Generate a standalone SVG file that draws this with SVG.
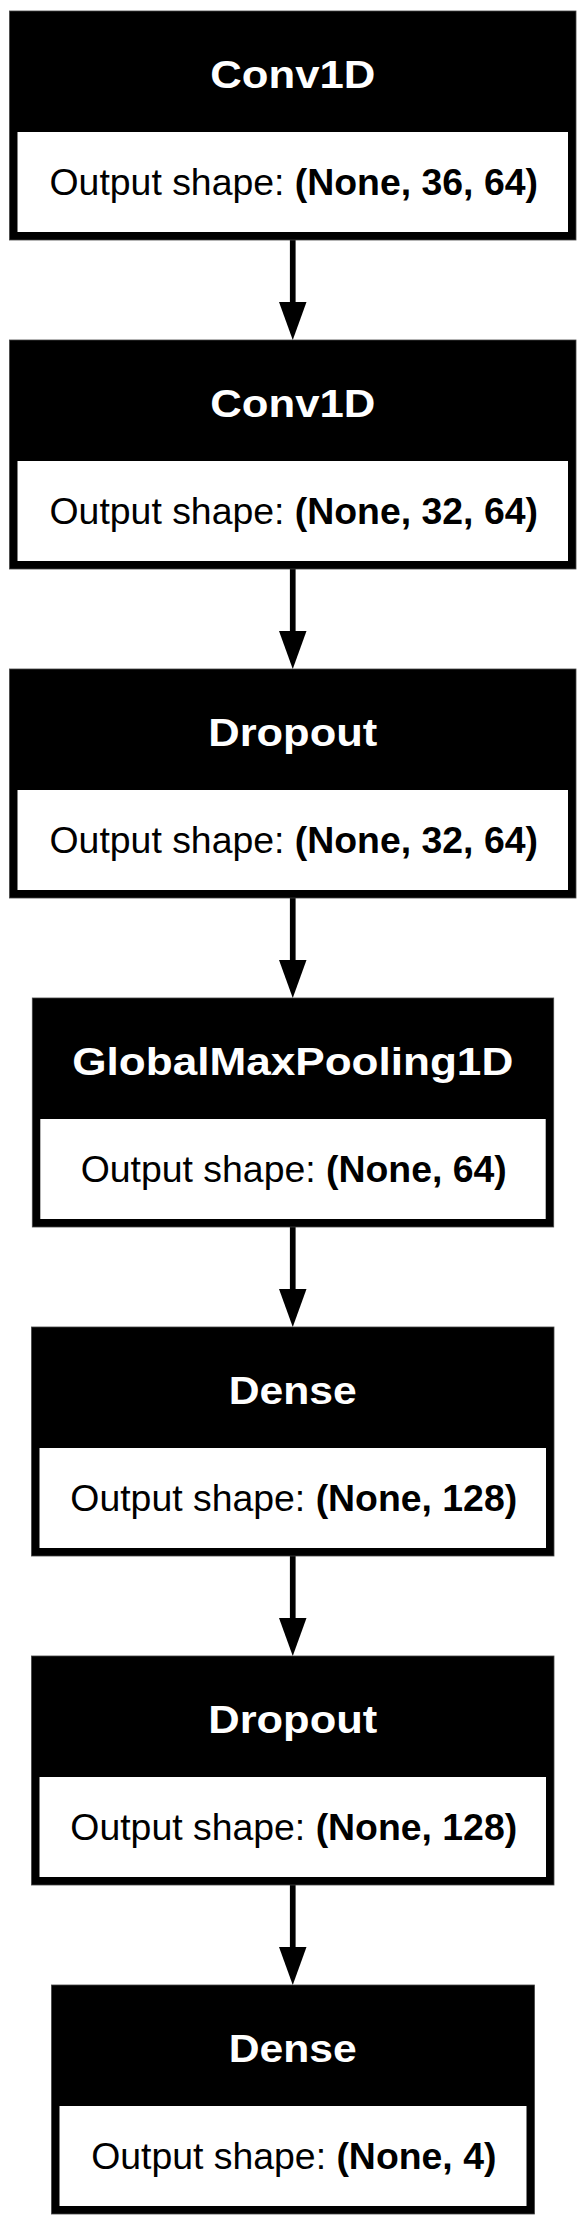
<svg xmlns="http://www.w3.org/2000/svg" width="586" height="2226" viewBox="0 0 586 2226">
<style>
.outer{fill:#000;stroke:#444;stroke-width:0.8}
.inner{fill:#fff}
.title{font-family:"Liberation Sans",Arial,sans-serif;font-weight:bold;font-size:39px;fill:#fff;text-anchor:middle}
.out{font-family:"Liberation Sans",Arial,sans-serif;font-size:37.4px;fill:#000;text-anchor:middle}
.b{font-weight:bold}
.edge{stroke:#000;stroke-width:5.7;fill:none}
.head{fill:#000;stroke:none}
</style>
<rect width="586" height="2226" fill="#fff"/>
<g id="connectors">
<line class="edge" x1="292.75" y1="240" x2="292.75" y2="303"/><polygon class="head" points="292.75,340 279,302 306.5,302"/>
<line class="edge" x1="292.75" y1="569" x2="292.75" y2="632"/><polygon class="head" points="292.75,669 279,631 306.5,631"/>
<line class="edge" x1="292.75" y1="898" x2="292.75" y2="961"/><polygon class="head" points="292.75,998 279,960 306.5,960"/>
<line class="edge" x1="292.75" y1="1227" x2="292.75" y2="1290"/><polygon class="head" points="292.75,1327 279,1289 306.5,1289"/>
<line class="edge" x1="292.75" y1="1556" x2="292.75" y2="1619"/><polygon class="head" points="292.75,1656 279,1618 306.5,1618"/>
<line class="edge" x1="292.75" y1="1885" x2="292.75" y2="1948"/><polygon class="head" points="292.75,1985 279,1947 306.5,1947"/>
</g>
<g id="node1">
<rect class="outer" x="9.5" y="11" width="566.5" height="229"/>
<rect class="inner" x="17.5" y="132" width="550.5" height="100"/>
<text class="title" x="292.75" y="88" textLength="165" lengthAdjust="spacingAndGlyphs">Conv1D</text>
<text class="out" x="293.75" y="195">Output shape: <tspan class="b">(None, 36, 64)</tspan></text>
</g>
<g id="node2">
<rect class="outer" x="9.5" y="340" width="566.5" height="229"/>
<rect class="inner" x="17.5" y="461" width="550.5" height="100"/>
<text class="title" x="292.75" y="417" textLength="165" lengthAdjust="spacingAndGlyphs">Conv1D</text>
<text class="out" x="293.75" y="524">Output shape: <tspan class="b">(None, 32, 64)</tspan></text>
</g>
<g id="node3">
<rect class="outer" x="9.5" y="669" width="566.5" height="229"/>
<rect class="inner" x="17.5" y="790" width="550.5" height="100"/>
<text class="title" x="292.75" y="746" textLength="169" lengthAdjust="spacingAndGlyphs">Dropout</text>
<text class="out" x="293.75" y="853">Output shape: <tspan class="b">(None, 32, 64)</tspan></text>
</g>
<g id="node4">
<rect class="outer" x="32.3" y="998" width="521.4" height="229"/>
<rect class="inner" x="40.3" y="1119" width="505.4" height="100"/>
<text class="title" x="292.75" y="1075" textLength="441" lengthAdjust="spacingAndGlyphs">GlobalMaxPooling1D</text>
<text class="out" x="293.75" y="1182">Output shape: <tspan class="b">(None, 64)</tspan></text>
</g>
<g id="node5">
<rect class="outer" x="31.5" y="1327" width="522.5" height="229"/>
<rect class="inner" x="39.5" y="1448" width="506.5" height="100"/>
<text class="title" x="292.75" y="1404" textLength="128" lengthAdjust="spacingAndGlyphs">Dense</text>
<text class="out" x="293.75" y="1511">Output shape: <tspan class="b">(None, 128)</tspan></text>
</g>
<g id="node6">
<rect class="outer" x="31.5" y="1656" width="522.5" height="229"/>
<rect class="inner" x="39.5" y="1777" width="506.5" height="100"/>
<text class="title" x="292.75" y="1733" textLength="169" lengthAdjust="spacingAndGlyphs">Dropout</text>
<text class="out" x="293.75" y="1840">Output shape: <tspan class="b">(None, 128)</tspan></text>
</g>
<g id="node7">
<rect class="outer" x="51.5" y="1985" width="483" height="229"/>
<rect class="inner" x="59.5" y="2106" width="467" height="100"/>
<text class="title" x="292.75" y="2062" textLength="128" lengthAdjust="spacingAndGlyphs">Dense</text>
<text class="out" x="293.75" y="2169">Output shape: <tspan class="b">(None, 4)</tspan></text>
</g>
</svg>
